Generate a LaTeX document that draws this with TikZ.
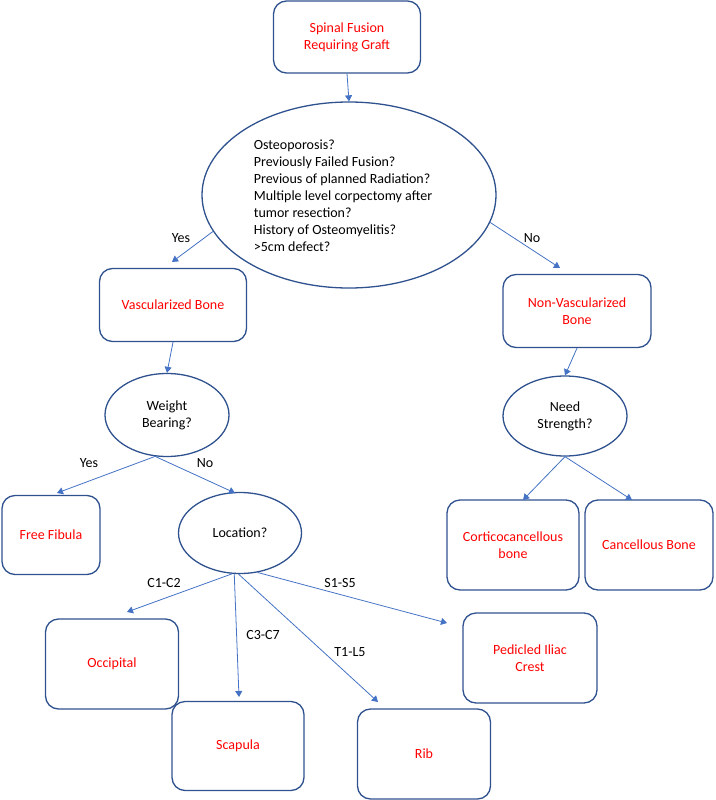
\documentclass[tikz,border=0pt]{standalone}
\usepackage{fontspec}
\setmainfont{Carlito}
\usetikzlibrary{shapes.geometric,arrows.meta}
\definecolor{boxblue}{HTML}{2F528F}
\definecolor{lineblue}{HTML}{4472C4}
\definecolor{txtred}{HTML}{FF0000}
\begin{document}
\begin{tikzpicture}[x=1pt,y=-1pt,>={Triangle[length=6pt,width=7pt]},
	font=\fontsize{14}{17}\selectfont, line join=round,
	box/.style={draw=boxblue,line width=1.3pt,rounded corners=13pt,text=txtred,align=center},
	oval/.style={draw=boxblue,line width=1.3pt,ellipse,align=center,inner sep=0pt},
	link/.style={->,draw=lineblue,line width=0.8pt}]
	\useasboundingbox (0,0) rectangle (715,800);
	% boxes
	\node[box,minimum width=147pt,minimum height=72pt] (top) at (347,37) {Spinal Fusion\\Requiring Graft};
	\node[box,minimum width=147pt,minimum height=73pt] (vasc) at (173,305) {Vascularized Bone};
	\node[box,minimum width=148pt,minimum height=73pt] (nonvasc) at (577,311) {Non-Vascularized\\Bone};
	\node[box,minimum width=98pt,minimum height=79pt] (fibula) at (51,535) {Free Fibula};
	\node[box,minimum width=132pt,minimum height=90pt] (cortico) at (513,545) {Corticocancellous\\bone};
	\node[box,minimum width=128pt,minimum height=90pt] (cancel) at (649,545) {Cancellous Bone};
	\node[box,minimum width=133pt,minimum height=90pt] (occip) at (112,664) {Occipital};
	\node[box,minimum width=132pt,minimum height=89pt] (scap) at (238,746) {Scapula};
	\node[box,minimum width=133pt,minimum height=90pt] (rib) at (424,754) {Rib};
	\node[box,minimum width=134pt,minimum height=90pt] (iliac) at (530,658) {Pedicled Iliac\\Crest};
	% questions
	\node[oval,minimum width=294pt,minimum height=186pt] (big) at (349,195) {};
	\node[align=left] (bigtext) at (343,196)
		{Osteoporosis?\\Previously Failed Fusion?\\Previous of planned Radiation?\\Multiple level corpectomy after\\tumor resection?\\History of Osteomyelitis?\\>5cm defect?};
	\node[oval,minimum width=124pt,minimum height=83pt] (weight) at (167,415) {Weight\\Bearing?};
	\node[oval,minimum width=124pt,minimum height=80pt] (need) at (565,416) {Need\\Strength?};
	\node[oval,minimum width=123pt,minimum height=81pt] (loc) at (240,533) {Location?};
	% free arrow ends
	\coordinate (e1) at (172,262);
	\coordinate (e2) at (560,268);
	\coordinate (e3) at (57,493);
	\coordinate (e4) at (235,493);
	\coordinate (e5) at (523,500);
	\coordinate (e6) at (632,500);
	\coordinate (e7) at (127,612);
	\coordinate (e8) at (239,697);
	\coordinate (e9) at (378,702);
	\coordinate (e10) at (447,623);
	% arrows
	\draw[link] (top.south) -- (big.north);
	\draw[link] (big.195) -- (e1);
	\draw[link] (big.-11) -- (e2);
	\draw[link] (vasc.south) -- (weight.north);
	\draw[link] (nonvasc.south) -- (need.north);
	\draw[link] (weight.254) -- (e3);
	\draw[link] (weight.254) -- (e4);
	\draw[link] (need.south) -- (e5);
	\draw[link] (need.south) -- (e6);
	\draw[link] (loc.259) -- (e7);
	\draw[link] (loc.262) -- (e8);
	\draw[link] (loc.268) -- (e9);
	\draw[link] (loc.-66) -- (e10);
	% labels
	\node (yes1) at (181,238) {Yes};
	\node (no1) at (532,238) {No};
	\node (yes2) at (89,463) {Yes};
	\node (no2) at (205,463) {No};
	\node (c12) at (164,583) {C1-C2};
	\node (c37) at (263,635) {C3-C7};
	\node (t1l5) at (350,652) {T1-L5};
	\node (s1s5) at (340,583) {S1-S5};
\end{tikzpicture}
\end{document}
